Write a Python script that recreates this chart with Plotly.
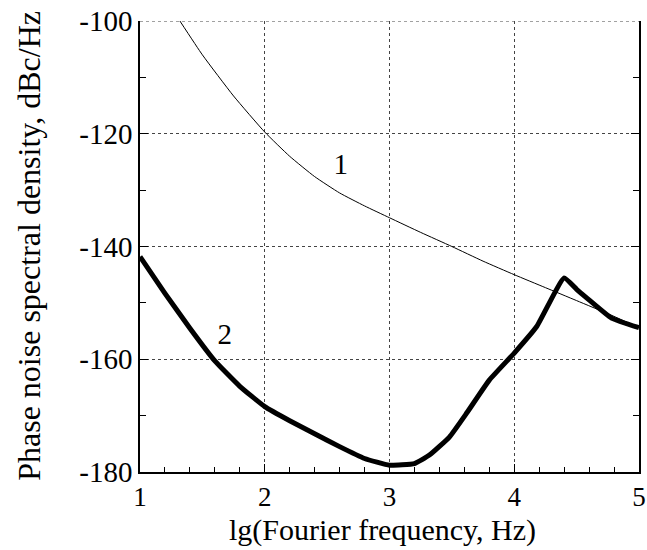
import plotly.graph_objects as go

# Curve 1 (thin)
x1 = [1.32, 1.5, 1.75, 2.0, 2.2, 2.4, 2.6, 2.8, 3.0, 3.25, 3.5, 3.75, 4.0, 4.25, 4.5, 4.78, 5.0]
y1 = [-100.0, -106.0, -113.3, -119.7, -124.0, -127.6, -130.5, -132.8, -134.9, -137.5, -140.0, -142.6, -145.0, -147.3, -149.6, -152.2, -154.4]

# Curve 2 (thick)
x2 = [1.0, 1.2, 1.4, 1.6, 1.8, 2.0, 2.2, 2.4, 2.6, 2.8, 3.0, 3.2, 3.32, 3.48, 3.62, 3.8, 4.0, 4.18, 4.4, 4.5, 4.58, 4.78, 5.0]
y2 = [-141.8, -148.3, -154.5, -160.3, -164.8, -168.4, -170.9, -173.2, -175.5, -177.6, -178.8, -178.5, -177.0, -173.8, -169.5, -163.7, -158.9, -154.2, -145.6, -147.6, -149.1, -152.7, -154.4]

yticks = [-100, -120, -140, -160, -180]
yticklabels = ["-100", "-120", "-140", "-160", "-180"]
xticks = [1, 2, 3, 4, 5]
xticklabels = ["1", "2", "3", "4", "5"]

labels_text = ["1", "2"]
labels_x = [2.61, 1.68]
labels_y = [-125.9, -156.0]

x_title = "lg(Fourier frequency, Hz)"
y_title = "Phase noise spectral density, dBc/Hz"

FONT = "Liberation Serif"

fig = go.Figure()
fig.add_trace(go.Scatter(x=x1, y=y1, mode="lines", line=dict(color="black", width=1, shape="spline", smoothing=0.5),
                         showlegend=False, hoverinfo="skip"))
fig.add_trace(go.Scatter(x=x2, y=y2, mode="lines", line=dict(color="black", width=5, shape="spline", smoothing=0.4),
                         showlegend=False, hoverinfo="skip"))
fig.add_trace(go.Scatter(x=labels_x, y=labels_y, mode="text", text=labels_text,
                         textfont=dict(family=FONT, size=29, color="black"), showlegend=False, hoverinfo="skip"))

fig.update_layout(
    width=647, height=550,
    margin=dict(l=140, r=8, t=21, b=78),
    paper_bgcolor="white", plot_bgcolor="white",
    font=dict(family=FONT, size=29, color="black"),
)
fig.update_xaxes(
    range=[1, 5], tickvals=xticks, ticktext=xticklabels, automargin=False,
    showline=True, linecolor="black", linewidth=1.5, mirror=False,
    ticks="inside", ticklen=8, tickcolor="black",
    minor=dict(dtick=0.2, tick0=1, ticks="inside", ticklen=5, tickcolor="black", showgrid=False),
    showgrid=True, gridcolor="#444444", griddash="dot", gridwidth=1,
    zeroline=False,
    tickfont=dict(family=FONT, size=27),
)
fig.update_yaxes(
    range=[-180, -100], tickvals=yticks, ticktext=yticklabels, automargin=False,
    showline=True, linecolor="black", linewidth=1.5, mirror="ticks",
    ticks="inside", ticklen=8, tickcolor="black",
    minor=dict(dtick=10, tick0=-100, ticks="inside", ticklen=6, tickcolor="black", showgrid=False),
    showgrid=True, gridcolor="#444444", griddash="dot", gridwidth=1,
    zeroline=False,
    tickfont=dict(family=FONT, size=29),
)
# axis titles
fig.add_annotation(text=x_title, xref="paper", yref="paper", x=0.485, y=-0.129,
                   xanchor="center", yanchor="middle", showarrow=False,
                   font=dict(family=FONT, size=30, color="black"))
fig.add_annotation(text=y_title, xref="paper", yref="paper", x=-0.224, y=0.502, textangle=-90,
                   xanchor="center", yanchor="middle", showarrow=False,
                   font=dict(family=FONT, size=32, color="black"))
# dotted top border (grid line at y=-100)
fig.add_shape(type="line", xref="paper", yref="y", x0=0, x1=1, y0=-100, y1=-100,
              line=dict(color="#444444", width=1, dash="dot"))

fig.write_html("out.html", config={"displayModeBar": False},
               post_script="document.body.style.margin='0';document.body.style.overflow='hidden';")
